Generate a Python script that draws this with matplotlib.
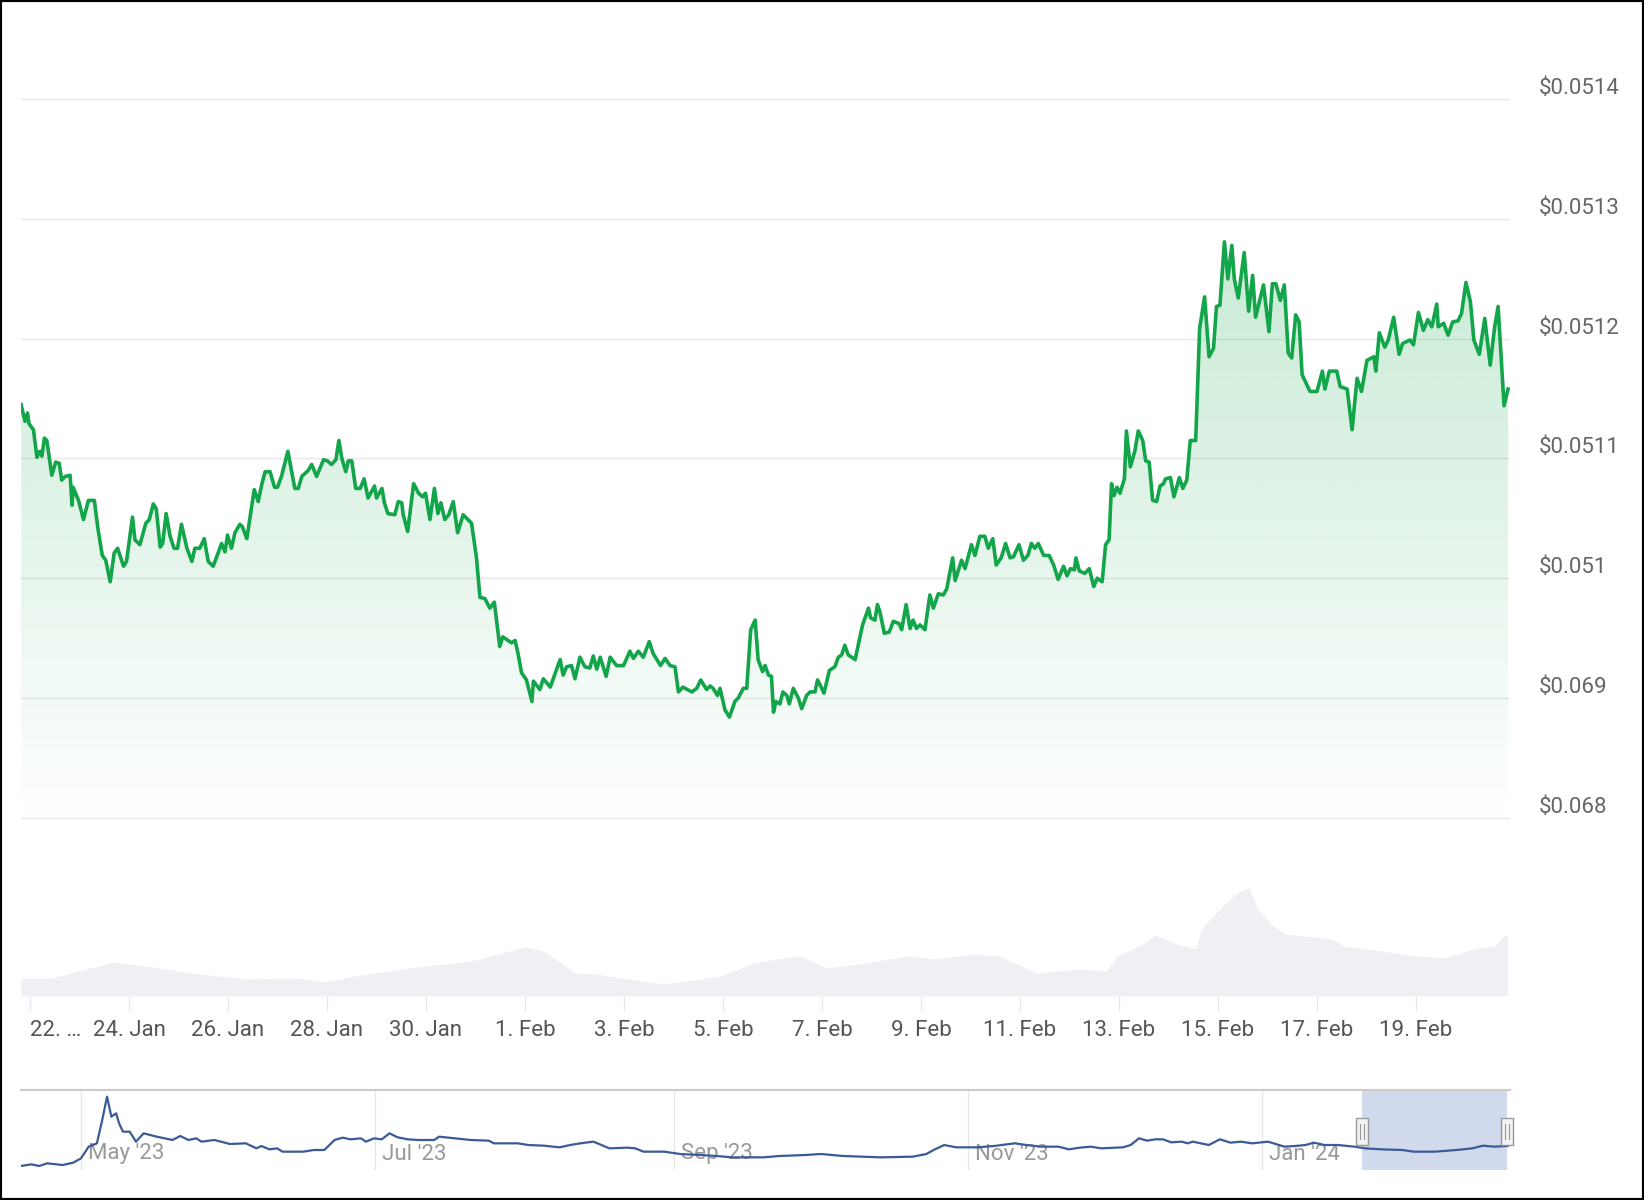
import numpy as np
import pandas as pd
import matplotlib
matplotlib.use("Agg")
import matplotlib.pyplot as plt
import matplotlib.dates as mdates
from matplotlib.patches import Polygon, Rectangle
from matplotlib.lines import Line2D
from matplotlib.transforms import offset_copy

plt.rcParams['font.family'] = ['Roboto', 'DejaVu Sans']

# ---------------- data ----------------
BASE = pd.Timestamp('2024-01-22')
price_days = [-0.18, -0.10, -0.05, -0.02, 0.07, 0.14, 0.20, 0.24, 0.29, 0.34,
              0.44, 0.52, 0.59, 0.64, 0.71, 0.81, 0.85, 0.87, 0.98, 1.08,
              1.18, 1.30, 1.37, 1.46, 1.53, 1.62, 1.70, 1.77, 1.89, 1.95,
              2.07, 2.12, 2.22, 2.34, 2.41, 2.49, 2.55, 2.63, 2.68, 2.75,
              2.83, 2.91, 2.98, 3.06, 3.17, 3.27, 3.33, 3.43, 3.52, 3.60,
              3.70, 3.80, 3.87, 3.94, 3.99, 4.07, 4.14, 4.24, 4.29, 4.38,
              4.53, 4.61, 4.68, 4.75, 4.85, 4.94, 5.00, 5.08, 5.21, 5.29,
              5.35, 5.42, 5.49, 5.62, 5.69, 5.79, 5.93, 6.01, 6.09, 6.18,
              6.24, 6.30, 6.38, 6.43, 6.50, 6.58, 6.67, 6.75, 6.83, 6.96,
              7.00, 7.11, 7.16, 7.23, 7.37, 7.44, 7.51, 7.54, 7.63, 7.75,
              7.85, 7.93, 7.99, 8.08, 8.17, 8.24, 8.30, 8.38, 8.46, 8.55,
              8.64, 8.75, 8.92, 9.02, 9.09, 9.19, 9.29, 9.38, 9.49, 9.55,
              9.73, 9.80, 9.86, 9.93, 10.03, 10.14, 10.17, 10.30, 10.37, 10.51,
              10.71, 10.77, 10.84, 10.94, 11.01, 11.11, 11.21, 11.31, 11.38, 11.45,
              11.52, 11.64, 11.72, 11.85, 11.99, 12.12, 12.19, 12.29, 12.39, 12.51,
              12.59, 12.74, 12.83, 12.93, 13.03, 13.10, 13.19, 13.37, 13.47, 13.55,
              13.67, 13.74, 13.80, 13.89, 13.94, 14.04, 14.13, 14.24, 14.31, 14.41,
              14.48, 14.56, 14.65, 14.71, 14.80, 14.85, 14.92, 14.98, 15.02, 15.07,
              15.15, 15.21, 15.29, 15.34, 15.42, 15.52, 15.59, 15.69, 15.76, 15.86,
              15.91, 15.96, 16.04, 16.15, 16.26, 16.33, 16.40, 16.46, 16.53, 16.67,
              16.82, 16.94, 16.98, 17.07, 17.12, 17.17, 17.26, 17.36, 17.44, 17.56,
              17.61, 17.70, 17.78, 17.84, 17.91, 17.98, 18.08, 18.18, 18.25, 18.35,
              18.45, 18.52, 18.64, 18.69, 18.82, 18.89, 19.02, 19.09, 19.19, 19.29,
              19.36, 19.45, 19.52, 19.62, 19.71, 19.80, 19.87, 19.98, 20.07, 20.16,
              20.23, 20.30, 20.37, 20.48, 20.59, 20.68, 20.77, 20.88, 20.95, 21.02,
              21.10, 21.13, 21.20, 21.31, 21.40, 21.49, 21.56, 21.66, 21.73, 21.80,
              21.85, 21.90, 21.96, 22.02, 22.11, 22.15, 22.23, 22.32, 22.39, 22.48,
              22.54, 22.61, 22.68, 22.76, 22.83, 22.90, 22.94, 23.04, 23.11, 23.22,
              23.29, 23.37, 23.44, 23.55, 23.63, 23.73, 23.82, 23.91, 23.97, 24.04,
              24.13, 24.20, 24.28, 24.33, 24.41, 24.53, 24.62, 24.70, 24.76, 24.92,
              25.03, 25.10, 25.17, 25.26, 25.34, 25.42, 25.49, 25.57, 25.64, 25.70,
              25.78, 25.86, 26.00, 26.11, 26.16, 26.25, 26.40, 26.47, 26.61, 26.71,
              26.81, 26.90, 27.01, 27.15, 27.19, 27.26, 27.37, 27.44, 27.55, 27.66,
              27.73, 27.88, 27.95, 28.05, 28.15, 28.24, 28.32, 28.42, 28.45, 28.56,
              28.65, 28.74, 28.85, 28.92, 29.01, 29.10, 29.17, 29.28, 29.39, 29.50,
              29.59, 29.66, 29.78, 29.86]
price = [0.051145, 0.051131, 0.051138, 0.051129, 0.051124, 0.051101, 0.051106, 0.051102, 0.051117, 0.051115,
         0.051086, 0.051097, 0.051096, 0.051082, 0.051085, 0.051086, 0.051061, 0.051076, 0.051065, 0.051049,
         0.051065, 0.051065, 0.051042, 0.051019, 0.051015, 0.050997, 0.051021, 0.051025, 0.051010, 0.051014,
         0.051051, 0.051032, 0.051028, 0.051046, 0.051049, 0.051062, 0.051058, 0.051026, 0.051029, 0.051054,
         0.051035, 0.051025, 0.051025, 0.051045, 0.051025, 0.051014, 0.051025, 0.051025, 0.051033, 0.051014,
         0.051010, 0.051021, 0.051029, 0.051022, 0.051036, 0.051025, 0.051038, 0.051045, 0.051043, 0.051033,
         0.051074, 0.051064, 0.051078, 0.051089, 0.051089, 0.051076, 0.051076, 0.051085, 0.051106, 0.051088,
         0.051075, 0.051075, 0.051085, 0.051090, 0.051095, 0.051085, 0.051099, 0.051098, 0.051095, 0.051099,
         0.051115, 0.051100, 0.051089, 0.051098, 0.051098, 0.051075, 0.051075, 0.051083, 0.051067, 0.051077,
         0.051067, 0.051075, 0.051063, 0.051054, 0.051053, 0.051064, 0.051063, 0.051053, 0.051039, 0.051079,
         0.051071, 0.051068, 0.051071, 0.051049, 0.051075, 0.051054, 0.051063, 0.051049, 0.051053, 0.051064,
         0.051038, 0.051053, 0.051046, 0.051017, 0.050984, 0.050983, 0.050975, 0.050980, 0.050943, 0.050951,
         0.050946, 0.050948, 0.050937, 0.050921, 0.050915, 0.050897, 0.050914, 0.050907, 0.050916, 0.050909,
         0.050932, 0.050919, 0.050926, 0.050927, 0.050916, 0.050934, 0.050926, 0.050925, 0.050935, 0.050924,
         0.050934, 0.050918, 0.050934, 0.050927, 0.050927, 0.050939, 0.050933, 0.050939, 0.050934, 0.050947,
         0.050937, 0.050927, 0.050933, 0.050927, 0.050926, 0.050905, 0.050909, 0.050905, 0.050908, 0.050915,
         0.050907, 0.050910, 0.050908, 0.050902, 0.050908, 0.050890, 0.050884, 0.050897, 0.050900, 0.050908,
         0.050908, 0.050957, 0.050965, 0.050932, 0.050922, 0.050927, 0.050919, 0.050918, 0.050888, 0.050897,
         0.050895, 0.050905, 0.050902, 0.050895, 0.050908, 0.050900, 0.050891, 0.050902, 0.050905, 0.050905,
         0.050915, 0.050911, 0.050904, 0.050923, 0.050926, 0.050934, 0.050936, 0.050944, 0.050936, 0.050932,
         0.050961, 0.050975, 0.050967, 0.050965, 0.050978, 0.050972, 0.050954, 0.050955, 0.050964, 0.050962,
         0.050957, 0.050978, 0.050958, 0.050965, 0.050958, 0.050961, 0.050957, 0.050986, 0.050975, 0.050987,
         0.050986, 0.050991, 0.051017, 0.050998, 0.051015, 0.051008, 0.051028, 0.051019, 0.051035, 0.051035,
         0.051025, 0.051033, 0.051011, 0.051017, 0.051029, 0.051017, 0.051018, 0.051028, 0.051015, 0.051019,
         0.051029, 0.051025, 0.051029, 0.051019, 0.051019, 0.051011, 0.050999, 0.051010, 0.051002, 0.051008,
         0.051007, 0.051017, 0.051006, 0.051004, 0.051008, 0.050993, 0.051000, 0.050997, 0.051028, 0.051032,
         0.051079, 0.051069, 0.051076, 0.051071, 0.051083, 0.051123, 0.051093, 0.051106, 0.051123, 0.051115,
         0.051098, 0.051097, 0.051065, 0.051064, 0.051077, 0.051079, 0.051083, 0.051084, 0.051068, 0.051084,
         0.051075, 0.051082, 0.051115, 0.051115, 0.051209, 0.051235, 0.051185, 0.051192, 0.051227, 0.051228,
         0.051281, 0.051250, 0.051278, 0.051250, 0.051234, 0.051272, 0.051223, 0.051253, 0.051218, 0.051245,
         0.051206, 0.051246, 0.051246, 0.051232, 0.051245, 0.051188, 0.051184, 0.051220, 0.051214, 0.051170,
         0.051163, 0.051156, 0.051156, 0.051173, 0.051158, 0.051173, 0.051173, 0.051160, 0.051158, 0.051124,
         0.051167, 0.051156, 0.051182, 0.051185, 0.051173, 0.051205, 0.051193, 0.051199, 0.051218, 0.051187,
         0.051196, 0.051199, 0.051195, 0.051222, 0.051207, 0.051216, 0.051210, 0.051229, 0.051210, 0.051213,
         0.051203, 0.051214, 0.051215, 0.051221, 0.051247, 0.051231, 0.051199, 0.051187, 0.051217, 0.051178,
         0.051210, 0.051227, 0.051144, 0.051158]

volume_days = [-0.18, 0.44, 0.97, 1.72, 2.46, 3.41, 4.36, 5.41, 5.94, 6.79,
               7.84, 8.91, 9.54, 10.02, 10.38, 11.01, 11.43, 12.08, 12.81, 13.98,
               14.61, 15.35, 15.56, 16.10, 16.75, 17.73, 18.27, 19.03, 19.58, 20.34,
               21.21, 21.75, 21.97, 22.52, 22.73, 23.17, 23.55, 23.66, 24.15, 24.42,
               24.63, 24.80, 25.12, 25.34, 26.32, 26.54, 27.30, 27.95, 28.60, 29.15,
               29.58, 29.80, 29.85]
volume = [18, 18, 25, 34, 29, 22, 17, 18, 14, 22,
          29, 35, 43, 49, 45, 23, 22, 17, 12, 20,
          33, 39, 40, 28, 32, 40, 37, 42, 40, 23,
          27, 25, 40, 53, 61, 52, 47, 67, 93, 104,
          108, 87, 70, 62, 57, 50, 45, 40, 38, 47,
          50, 61, 61]

NAV_BASE = pd.Timestamp('2023-05-01')
nav_days = [-12.5, -10.3, -8.7, -7.0, -3.8, -1.6, 0.0, 1.6, 3.3, 4.4,
            5.4, 6.3, 7.3, 7.9, 8.7, 10.1, 11.4, 13.0, 15.7, 19.0,
            20.6, 22.3, 23.9, 25.0, 27.7, 30.9, 34.2, 36.4, 37.4, 39.1,
            40.7, 41.8, 46.1, 48.3, 50.5, 52.6, 54.3, 55.9, 58.1, 59.1,
            60.8, 62.4, 64.0, 65.7, 67.8, 70.0, 73.3, 74.3, 77.6, 80.9,
            84.6, 85.7, 90.6, 92.8, 96.0, 99.3, 101.5, 103.6, 106.3, 108.0,
            109.6, 113.4, 115.0, 116.7, 121.0, 124.3, 128.6, 131.8, 135.1, 139.4,
            141.6, 144.9, 150.3, 153.6, 158.1, 165.9, 172.6, 175.4, 176.9, 179.1,
            181.6, 186.0, 189.4, 193.8, 196.1, 199.4, 202.8, 205.0, 207.2, 209.5,
            211.7, 216.2, 217.8, 219.5, 221.2, 222.9, 224.5, 226.2, 228.4, 229.6,
            230.7, 234.0, 236.3, 238.5, 240.7, 243.0, 246.3, 249.7, 251.9, 254.1,
            255.8, 258.0, 260.8, 264.2, 266.4, 269.8, 274.2, 276.5, 280.9, 285.4,
            288.7, 290.9, 293.2, 296.0]
nav_price = [0.0457, 0.0462, 0.0457, 0.0465, 0.0460, 0.0467, 0.0480, 0.0515, 0.0525, 0.0595,
             0.0665, 0.0605, 0.0615, 0.0585, 0.0560, 0.0560, 0.0530, 0.0555, 0.0545, 0.0535,
             0.0547, 0.0535, 0.0540, 0.0530, 0.0535, 0.0523, 0.0525, 0.0510, 0.0517, 0.0507,
             0.0510, 0.0500, 0.0500, 0.0505, 0.0505, 0.0535, 0.0542, 0.0537, 0.0540, 0.0530,
             0.0540, 0.0537, 0.0555, 0.0543, 0.0537, 0.0535, 0.0535, 0.0545, 0.0540, 0.0535,
             0.0533, 0.0525, 0.0525, 0.0520, 0.0518, 0.0513, 0.0520, 0.0525, 0.0530, 0.0520,
             0.0510, 0.0512, 0.0510, 0.0500, 0.0500, 0.0493, 0.0490, 0.0487, 0.0483, 0.0483,
             0.0483, 0.0487, 0.0490, 0.0493, 0.0487, 0.0483, 0.0485, 0.0493, 0.0505, 0.0520,
             0.0513, 0.0513, 0.0517, 0.0525, 0.0520, 0.0515, 0.0515, 0.0507, 0.0512, 0.0515,
             0.0510, 0.0513, 0.0520, 0.0540, 0.0533, 0.0537, 0.0537, 0.0528, 0.0530, 0.0525,
             0.0530, 0.0520, 0.0537, 0.0527, 0.0530, 0.0525, 0.0530, 0.0515, 0.0517, 0.0520,
             0.0527, 0.0520, 0.0520, 0.0515, 0.0510, 0.0507, 0.0505, 0.0500, 0.0500, 0.0505,
             0.0510, 0.0518, 0.0515, 0.0517]

y_ticks = [0.0508, 0.0509, 0.0510, 0.0511, 0.0512, 0.0513, 0.0514]
y_tick_labels = ['$0.068', '$0.069', '$0.051', '$0.0511', '$0.0512', '$0.0513', '$0.0514']
x_tick_days = [0, 2, 4, 6, 8, 10, 12, 14, 16, 18, 20, 22, 24, 26, 28]
x_tick_labels = ['22. …', '24. Jan', '26. Jan', '28. Jan', '30. Jan', '1. Feb', '3. Feb',
                 '5. Feb', '7. Feb', '9. Feb', '11. Feb', '13. Feb', '15. Feb', '17. Feb', '19. Feb']
nav_months = ['2023-05-01', '2023-07-01', '2023-09-01', '2023-11-01', '2024-01-01']
nav_month_labels = ["May '23", "Jul '23", "Sep '23", "Nov '23", "Jan '24"]


def to_num(base, days):
    return mdates.date2num(base + pd.to_timedelta(np.asarray(days, dtype=float), unit='D'))


GREEN = '#12a54a'
GREEN_RGB = (0x12 / 255, 0xa5 / 255, 0x4a / 255)

W, H = 1644, 1200
fig = plt.figure(figsize=(W / 100, H / 100), dpi=100)
fig.patch.set_facecolor('white')


def rect(x0, y0, x1, y1):
    return [x0 / W, 1 - y1 / H, (x1 - x0) / W, (y1 - y0) / H]


ax = fig.add_axes(rect(21, 40, 1510, 840))
axv = fig.add_axes(rect(21, 880, 1510, 996), sharex=ax)
axn = fig.add_axes(rect(21, 1090, 1510, 1170))

# ---------------- main price chart ----------------
x = to_num(BASE, price_days)
y = np.array(price)
ylo, yhi = 0.0507813, 0.0514496
xlim = to_num(BASE, [-0.182, 29.90])

n = 300
vals = np.linspace(ylo, yhi, n)
alpha = np.clip(0.24 * (vals - 0.05079) / (0.0513 - 0.05079), 0.0, 0.30)
rgba = np.zeros((n, 1, 4))
rgba[:, 0, 0], rgba[:, 0, 1], rgba[:, 0, 2] = GREEN_RGB
rgba[:, 0, 3] = alpha
im = ax.imshow(rgba, extent=[xlim[0], xlim[1], ylo, yhi], origin='lower',
               aspect='auto', interpolation='bilinear', zorder=1)
poly = Polygon(np.column_stack([np.r_[x[0], x, x[-1]], np.r_[ylo, y, ylo]]),
               closed=True, facecolor='none', edgecolor='none', transform=ax.transData)
ax.add_patch(poly)
im.set_clip_path(poly)

ax.plot(x, y, color=GREEN, lw=2.6, zorder=3, solid_joinstyle='round')

ax.set_xlim(xlim)
ax.set_ylim(ylo, yhi)
ax.set_yticks(y_ticks, y_tick_labels)
ax.yaxis.grid(True, color='#e8e8e8', lw=1.0)
ax.set_axisbelow(True)
ax.tick_params(axis='y', length=0, left=False, right=False, labelleft=False,
               labelright=True, pad=21, labelsize=16, labelcolor='#666666')
ax.tick_params(axis='x', bottom=False, labelbottom=False)
for lbl in ax.get_yticklabels():
    lbl.set_va('bottom')
for s in ax.spines.values():
    s.set_visible(False)

# ---------------- volume ----------------
xv = to_num(BASE, volume_days)
axv.fill_between(xv, 0, volume, color='#eef0f4', lw=0)
axv.set_ylim(0, 116)
axv.set_yticks([])
axv.set_xticks(to_num(BASE, x_tick_days), x_tick_labels)
axv.tick_params(axis='x', length=11, width=1, color='#e6e7ee', pad=6,
                labelsize=16, labelcolor='#555555')
axv.get_xticklabels()[0].set_ha('left')
for s in axv.spines.values():
    s.set_visible(False)
axv.patch.set_alpha(0)

# ---------------- navigator ----------------
xn = to_num(NAV_BASE, nav_days)
axn.plot(xn, nav_price, color='#3a5a98', lw=1.6, zorder=3)
axn.set_xlim(to_num(NAV_BASE, [-12.45, 296.5]))
axn.set_ylim(0.0445, 0.0685)
month_nums = mdates.date2num(pd.to_datetime(nav_months))
axn.set_xticks(month_nums)
axn.xaxis.grid(True, color='#e6e6e6', lw=1.0)
axn.tick_params(axis='x', length=0, labelbottom=False)
axn.set_yticks([])
axn.axvspan(xlim[0], xlim[1], color=(102 / 255, 133 / 255, 194 / 255, 0.3), lw=0, zorder=1)
for k, s in axn.spines.items():
    if k == 'top':
        s.set_color('#cccccc')
        s.set_linewidth(1.5)
    else:
        s.set_visible(False)
lab_tr = offset_copy(axn.get_xaxis_transform(), fig=fig, x=7, y=0, units='dots')
for mn, lab in zip(month_nums, nav_month_labels):
    axn.text(mn, 0.2, lab, transform=lab_tr, ha='left', va='center',
             fontsize=16, color='#999999', zorder=2)

# handles
for xd in xlim:
    px = axn.transData.transform((xd, 0.05))[0]
    fig.add_artist(Rectangle(((px - 6) / W, (H - 1145) / H), 12 / W, 27 / H,
                             transform=fig.transFigure, facecolor='#f2f2f2',
                             edgecolor='#999999', lw=1, zorder=5))
    for dx in (-2, 2):
        fig.add_artist(Line2D([(px + dx) / W] * 2, [(H - 1139) / H, (H - 1124) / H],
                              transform=fig.transFigure, color='#999999', lw=0.8, zorder=6))

fig.add_artist(Rectangle((0, 0), 1, 1, transform=fig.transFigure, fill=False,
                         edgecolor='black', lw=3, zorder=10))

fig.savefig('out.png', dpi=100)
